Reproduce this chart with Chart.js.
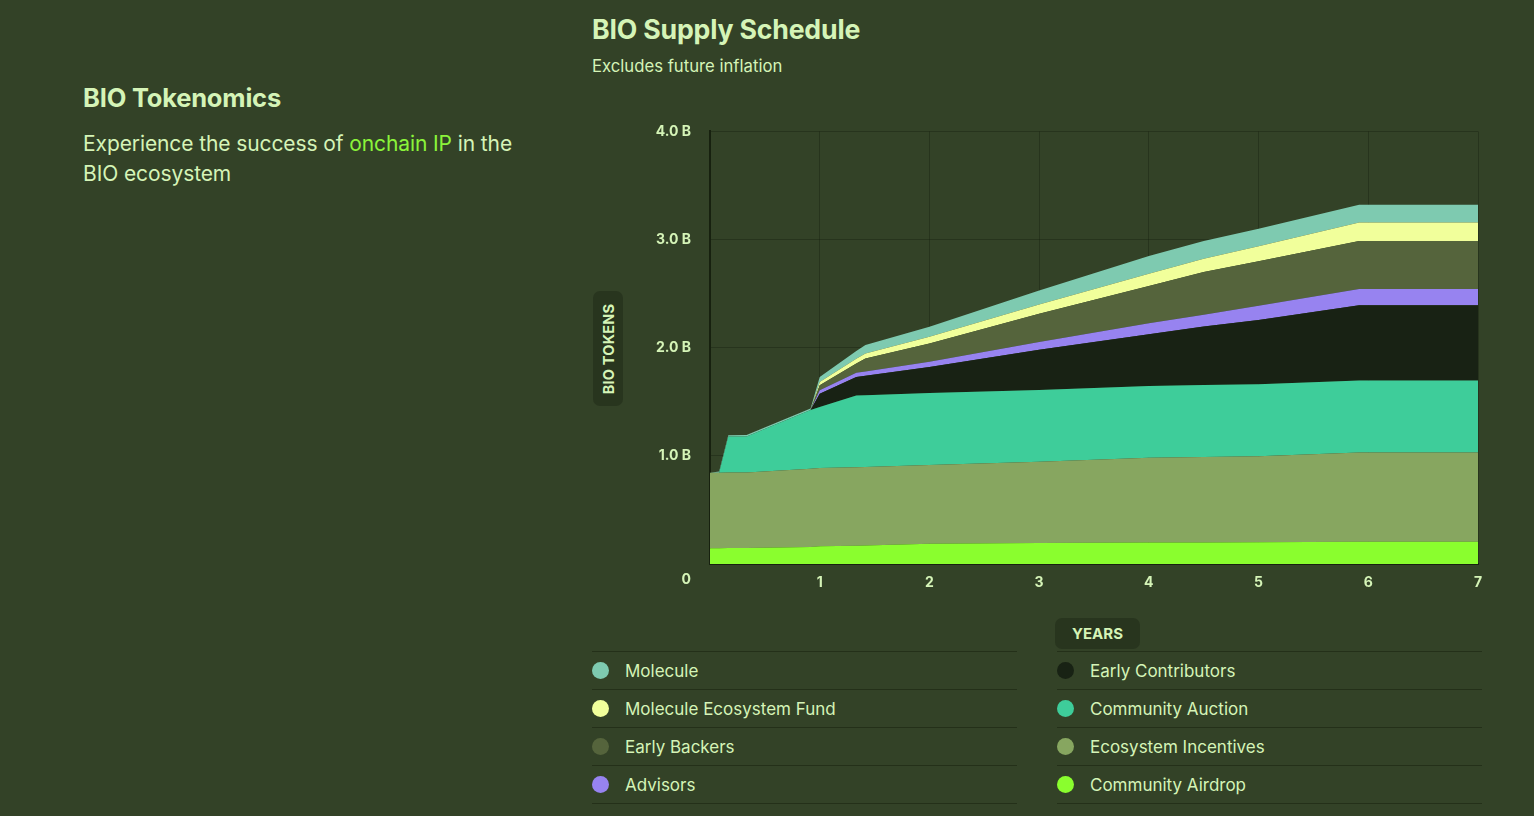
<!DOCTYPE html>
<html>
<head>
<meta charset="utf-8">
<script src="https://cdn.jsdelivr.net/npm/chart.js@4.4.1/dist/chart.umd.min.js"></script>
<style>
  html, body { margin: 0; padding: 0; width: 1534px; height: 816px; overflow: hidden;
    background: #334227; color: #d5f4b7; font-family: Inter, "Noto Sans", sans-serif; }
  .intro { position: absolute; left: 83px; top: 84px; width: 445px; }
  .intro h2 { margin: 0; font-size: 25.5px; line-height: 28px; font-weight: 700; letter-spacing: -0.2px; }
  .intro p { margin: 17px 0 0; font-size: 21px; line-height: 30px; letter-spacing: -0.1px; }
  .intro .hl { color: #8bf43a; }
  .title { position: absolute; left: 592px; top: 13px; font-size: 26.7px; line-height: 32px; font-weight: 700; letter-spacing: -0.2px; }
  .subtitle { position: absolute; left: 592px; top: 56px; font-size: 16.7px; line-height: 20px; }
  .chart-box { position: absolute; left: 630px; top: 104px; width: 870px; height: 496px; }
  .ytitle { position: absolute; left: 593px; top: 291px; width: 30px; height: 115px; border-radius: 7px;
    background: rgba(20, 30, 14, 0.35); }
  .ytitle span { position: absolute; left: 50%; top: 50%; transform: translate(-50%, -50%) rotate(-90deg);
    font-size: 14.5px; font-weight: 700; white-space: nowrap; letter-spacing: 0.2px; }
  .xtitle { position: absolute; left: 1055px; top: 618px; width: 85px; height: 31px; border-radius: 7px;
    background: rgba(20, 30, 14, 0.35); font-size: 15px; font-weight: 700; line-height: 31px; text-align: center; }
  .legend { position: absolute; top: 651px; width: 425px; }
  .legend .row { height: 37px; border-top: 1px solid #243019; display: flex; align-items: center; font-size: 17px; }
  .legend .row:last-child { border-bottom: 1px solid #243019; }
  .legend .dot { width: 17px; height: 17px; border-radius: 50%; margin-right: 16px; flex: none; }
</style>
</head>
<body>
<div class="intro">
  <h2>BIO Tokenomics</h2>
  <p>Experience the success of <span class="hl">onchain IP</span> in the BIO ecosystem</p>
</div>
<div class="title">BIO Supply Schedule</div>
<div class="subtitle">Excludes future inflation</div>
<div class="ytitle"><span>BIO TOKENS</span></div>
<div class="chart-box"><canvas id="supply-chart"></canvas></div>
<div class="xtitle">YEARS</div>
<div class="legend" id="legend-left" style="left:592px"></div>
<div class="legend" id="legend-right" style="left:1057px"></div>

<script>
// mois depuis le lancement, valeurs en milliards de BIO
var months = [0, 1, 2, 4, 11, 12, 16, 17, 24, 36, 48, 54, 60, 71, 84];
var communityAirdrop    = [0.145, 0.146, 0.147, 0.149, 0.158, 0.163, 0.168, 0.170, 0.188, 0.195, 0.198, 0.199, 0.201, 0.206, 0.206];
var ecosystemIncentives = [0.698, 0.698, 0.698, 0.698, 0.722, 0.725, 0.726, 0.726, 0.728, 0.750, 0.784, 0.791, 0.796, 0.825, 0.825];
var communityAuction    = [0, 0, 0.333, 0.333, 0.545, 0.564, 0.665, 0.665, 0.665, 0.665, 0.665, 0.665, 0.665, 0.665, 0.665];
var earlyContributors   = [0, 0, 0, 0, 0, 0.123, 0.170, 0.180, 0.240, 0.372, 0.478, 0.540, 0.595, 0.696, 0.696];
var advisors            = [0, 0, 0, 0, 0, 0.031, 0.039, 0.040, 0.049, 0.071, 0.100, 0.110, 0.130, 0.150, 0.150];
var earlyBackers        = [0, 0, 0, 0, 0, 0.046, 0.086, 0.120, 0.169, 0.262, 0.345, 0.394, 0.413, 0.444, 0.444];
var moleculeEcoFund     = [0, 0, 0, 0, 0, 0.030, 0.044, 0.046, 0.062, 0.085, 0.114, 0.124, 0.138, 0.172, 0.172];
var molecule            = [0, 0.012, 0.012, 0.012, 0.012, 0.047, 0.072, 0.077, 0.092, 0.130, 0.163, 0.163, 0.163, 0.163, 0.163];

// ordre d'empilement : du bas vers le haut
var seriesNames = ['Community Airdrop', 'Ecosystem Incentives', 'Community Auction', 'Early Contributors',
  'Advisors', 'Early Backers', 'Molecule Ecosystem Fund', 'Molecule'];
var seriesValues = [communityAirdrop, ecosystemIncentives, communityAuction, earlyContributors,
  advisors, earlyBackers, moleculeEcoFund, molecule];
var seriesColors = ['#8afe2e', '#87a660', '#3ecd9a', '#182214', '#9783f0', '#55643c', '#f1ff9b', '#7ecab0'];

var yTickLabels = ['0', '1.0 B', '2.0 B', '3.0 B', '4.0 B'];
var xTickLabels = ['', '1', '2', '3', '4', '5', '6', '7'];

var textColor = '#d5f4b7';
var tickFont = { family: 'Inter, "Noto Sans", sans-serif', size: 14, weight: 'bold' };

var datasets = seriesNames.map(function (name, i) {
  return {
    label: name,
    data: seriesValues[i].map(function (v, j) { return { x: months[j] / 12, y: v }; }),
    backgroundColor: seriesColors[i],
    borderWidth: 0,
    pointRadius: 0,
    fill: i === 0 ? 'origin' : '-1',
    tension: 0
  };
});

// le "0" de l'origine est placé sous l'axe, à gauche
var originLabel = {
  id: 'originLabel',
  afterDraw: function (chart) {
    var ctx = chart.ctx;
    var y = chart.scales.y;
    ctx.save();
    ctx.fillStyle = textColor;
    ctx.font = 'bold 14px Inter, "Noto Sans", sans-serif';
    ctx.textAlign = 'right';
    ctx.textBaseline = 'middle';
    ctx.fillText(yTickLabels[0], y.right - 19, y.getPixelForValue(0) + 16);
    ctx.restore();
  }
};

var ctx = document.getElementById('supply-chart').getContext('2d');
var supplyChart = new Chart(ctx, {
  type: 'line',
  data: { datasets: datasets },
  plugins: [originLabel],
  options: {
    responsive: true,
    maintainAspectRatio: false,
    animation: false,
    layout: { padding: { top: 6, right: 22, left: 0, bottom: 0 } },
    plugins: { legend: { display: false }, tooltip: { enabled: false } },
    scales: {
      x: {
        type: 'linear',
        min: 0,
        max: 7,
        z: 1,
        afterFit: function (scale) { scale.height = 36; },
        ticks: {
          stepSize: 1,
          padding: 10,
          color: textColor,
          font: tickFont,
          maxRotation: 0,
          callback: function (v) { return xTickLabels[v]; }
        },
        grid: { color: 'rgba(16, 26, 10, 0.32)', lineWidth: 1, drawTicks: false },
        border: { display: true, color: '#17210f', width: 2 }
      },
      y: {
        stacked: true,
        min: 0,
        max: 4,
        z: 1,
        afterFit: function (scale) { scale.width = 80; },
        ticks: {
          stepSize: 1,
          padding: 19,
          color: textColor,
          font: tickFont,
          callback: function (v) { return v === 0 ? '' : yTickLabels[v]; }
        },
        grid: { color: 'rgba(16, 26, 10, 0.32)', lineWidth: 1, drawTicks: false },
        border: { display: true, color: '#17210f', width: 2 }
      }
    }
  }
});

// légende en deux colonnes, du haut de la pile vers le bas
var order = seriesNames.map(function (n, i) { return i; }).reverse();
order.forEach(function (i, k) {
  var row = document.createElement('div');
  row.className = 'row';
  row.innerHTML = '<span class="dot" style="background:' + seriesColors[i] + '"></span>' + seriesNames[i];
  document.getElementById(k < 4 ? 'legend-left' : 'legend-right').appendChild(row);
});
</script>
</body>
</html>
